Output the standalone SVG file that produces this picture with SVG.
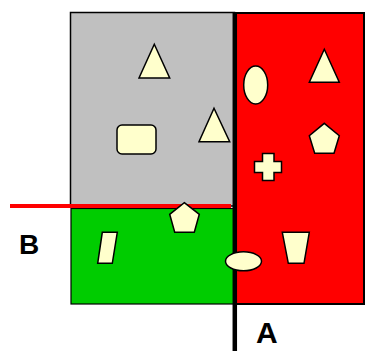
<svg xmlns="http://www.w3.org/2000/svg" width="365" height="351" viewBox="0 0 365 351">
<style>
.sh{fill:#FFFFCC;stroke:#000;stroke-width:1.5;stroke-linejoin:miter}
.lbl{font-family:"Liberation Sans",Arial,sans-serif;font-weight:bold;font-size:28px;fill:#000}
</style>
<rect width="365" height="351" fill="#fff"/>
<g id="regions">
<rect id="gray" x="70.5" y="12.5" width="164" height="193.5" fill="#C0C0C0" stroke="#000" stroke-width="1.5"/>
<rect id="red" x="236" y="13" width="128" height="291" fill="#FF0000" stroke="#000" stroke-width="2"/>
<rect id="green" x="71" y="208.5" width="163" height="95.5" fill="#00CC00" stroke="#000" stroke-width="1.2"/>
</g>
<g id="connectors">
<line id="lineA" x1="234.8" y1="12" x2="234.8" y2="351" stroke="#000" stroke-width="4.5"/>
<line id="lineB" x1="10" y1="206" x2="231" y2="206" stroke="#FF0000" stroke-width="4"/>
</g>
<g id="tri1"><polygon class="sh" points="154.3,44.3 139,78 169.7,78"/></g>
<g id="tri2"><polygon class="sh" points="214,108.3 199,141.7 229.7,141.7"/></g>
<g id="rrect"><rect class="sh" x="117" y="125" width="39" height="29" rx="5"/></g>
<g id="ell1"><ellipse class="sh" cx="255.7" cy="85" rx="12" ry="19"/></g>
<g id="tri3"><polygon class="sh" points="324.3,49.3 309.3,82.3 339.3,82.3"/></g>
<g id="pent1"><polygon class="sh" points="324.3,123.3 339.3,135.7 334,153.3 314.7,153.3 309.3,135.7"/></g>
<g id="cross"><path class="sh" d="M262.5,153.5 H274 V161.5 H281.5 V172.5 H274 V180.5 H262.5 V172.5 H254.5 V161.5 H262.5 Z"/></g>
<g id="pent2"><polygon class="sh" points="184.3,202.7 199.3,214.3 194.3,232.3 174.7,232.3 169.7,214.3"/></g>
<g id="para"><polygon class="sh" points="102.3,232.3 117.3,232.3 112.3,263.3 97.7,263.3"/></g>
<g id="ell2"><ellipse class="sh" cx="243.5" cy="261.3" rx="18" ry="9.5"/></g>
<g id="trap"><polygon class="sh" points="282.3,232.3 309.3,232.3 304,263.3 288.3,263.3"/></g>
<g id="labelB"><text class="lbl" x="19" y="254.3">B</text></g>
<g id="labelA"><text class="lbl" x="256" y="343.3" style="font-size:30px">A</text></g>
</svg>
